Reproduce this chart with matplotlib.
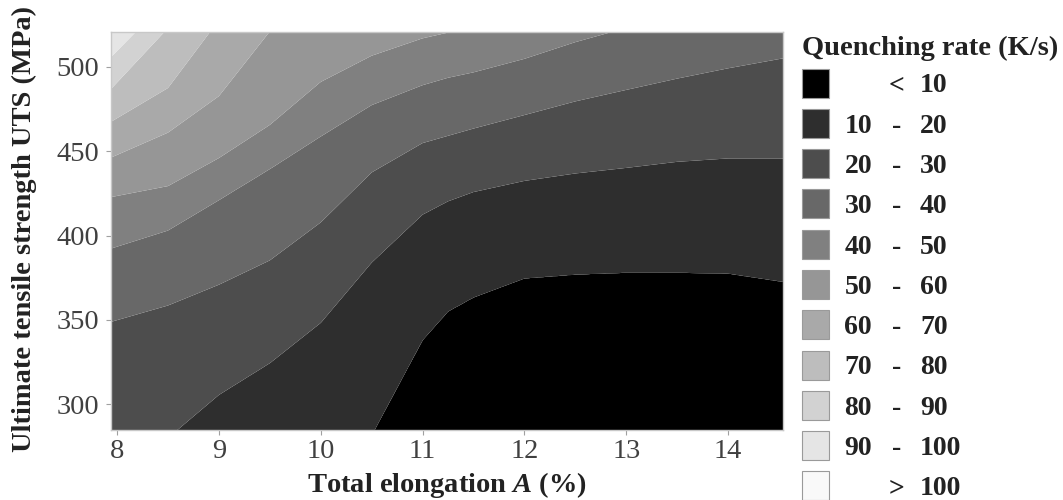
import numpy as np
import matplotlib
matplotlib.use("Agg")
import matplotlib.pyplot as plt
from matplotlib.patches import Rectangle

# ---------------- data ----------------
# Elongation columns (%) at which the contour boundaries were read
elongation_cols = [7.94, 8.5, 9.0, 9.5, 10.0, 10.5, 11.0, 11.25, 11.5, 12.0, 12.5, 13.0, 13.5, 14.0, 14.54]
# Quenching-rate contour levels (K/s)
rate_levels = [0, 10, 20, 30, 40, 50, 60, 70, 80, 90, 100]
# UTS (MPa) at which each level is crossed, one list per level, per column
uts_level_0 = [100, 100, 100, 100, 100, 100, 100, 100, 100, 100, 100, 100, 100, 100, 100]
uts_level_10 = [180, 195, 205, 215, 225, 281.5, 338, 355, 363.3, 374.6, 376.9, 378, 378, 377.5, 372.6]
uts_level_20 = [252, 280.1, 305.6, 324.4, 348.3, 384, 412.4, 420.3, 425.8, 432.4, 436.8, 440.1, 443.7, 445.7, 445.7]
uts_level_30 = [348.9, 358.6, 370.9, 385.3, 407.8, 437.4, 454.8, 459.1, 463.4, 471.4, 479.5, 486.3, 493, 499.1, 505]
uts_level_40 = [392.3, 403, 421, 439.4, 458.7, 477.3, 489.1, 493.5, 496.7, 504.7, 514.6, 523, 530.6, 538, 547]
uts_level_50 = [422.8, 429.3, 445.9, 465.5, 491, 506.5, 516.8, 520.2, 525, 533.6, 542, 550, 558, 566, 575]
uts_level_60 = [446.2, 461, 482.6, 521, 545, 570, 590, 597, 605, 615, 625, 635, 645, 655, 665]
uts_level_70 = [467.4, 487.4, 527.7, 555, 580, 600, 620, 628, 635, 645, 655, 665, 675, 685, 695]
uts_level_80 = [486.8, 523, 550, 580, 605, 625, 645, 652, 660, 670, 680, 690, 700, 710, 720]
uts_level_90 = [505.7, 540, 570, 600, 625, 650, 670, 678, 685, 695, 705, 715, 725, 735, 745]
uts_level_100 = [528, 560, 590, 620, 645, 675, 695, 702, 710, 720, 730, 740, 750, 760, 770]

band_labels_left = ["", "10", "20", "30", "40", "50", "60", "70", "80", "90", ""]
band_labels_mid = ["<", "-", "-", "-", "-", "-", "-", "-", "-", "-", ">"]
band_labels_right = ["10", "20", "30", "40", "50", "60", "70", "80", "90", "100", "100"]
band_colors = ["#000000", "#2e2e2e", "#4d4d4d", "#686868", "#808080", "#969696",
               "#a9a9a9", "#bdbdbd", "#d2d2d2", "#e5e5e5", "#f9f9f9"]

x_ticks = [8, 9, 10, 11, 12, 13, 14]
y_ticks = [300, 350, 400, 450, 500]

# ---------------- build field ----------------
crossings = np.array([uts_level_0, uts_level_10, uts_level_20, uts_level_30, uts_level_40,
                      uts_level_50, uts_level_60, uts_level_70, uts_level_80, uts_level_90,
                      uts_level_100])
x_cols = np.array(elongation_cols)
x_fine = np.linspace(x_cols[0], x_cols[-1], 700)
y_fine = np.linspace(284.8, 520.6, 700)
# boundary positions follow straight segments between the read columns
cross_fine = np.array([np.interp(x_fine, x_cols, row) for row in crossings])
Z = np.empty((len(y_fine), len(x_fine)))
for j in range(len(x_fine)):
    Z[:, j] = np.interp(y_fine, cross_fine[:, j], rate_levels)
X, Y = np.meshgrid(x_fine, y_fine)

# ---------------- figure ----------------
W, H = 1063, 500
plt.rcParams['font.family'] = ['Liberation Serif', 'DejaVu Serif']
plt.rcParams['mathtext.fontset'] = 'custom'
plt.rcParams['mathtext.it'] = 'Liberation Serif:italic:bold'
plt.rcParams['mathtext.rm'] = 'Liberation Serif:bold'

fig = plt.figure(figsize=(W / 100, H / 100), dpi=100)
ax = fig.add_axes([111 / W, 1 - 430 / H, (783 - 111) / W, (430 - 32) / H])

fill_levels = [-1, 10, 20, 30, 40, 50, 60, 70, 80, 90, 100, 1000]
ax.contourf(X, Y, Z, levels=fill_levels, colors=band_colors, antialiased=True)

ax.set_xlim(7.94, 14.54)
ax.set_ylim(284.8, 520.6)
ax.set_xticks(x_ticks)
ax.set_yticks(y_ticks)
ax.tick_params(axis='both', length=3.6, width=0.8, color='#a0a0a0',
               labelsize=20.5, labelcolor='#404040')
ax.tick_params(axis='y', pad=5)
ax.tick_params(axis='x', pad=3)
for s in ax.spines.values():
    s.set_color('#c8c8c8')
    s.set_linewidth(1.0)


def fpos(x, y):
    return x / W, 1 - y / H


fig.text(*fpos(447, 492), r'Total elongation $\it{A}$ (%)', ha='center', va='baseline',
         fontsize=20.5, fontweight='bold', color='#222222')
fig.text(*fpos(24, 229), 'Ultimate tensile strength UTS (MPa)', ha='center', va='center',
         rotation=90, fontsize=20.5, fontweight='bold', color='#222222')

# legend
fig.text(*fpos(802, 55), 'Quenching rate (K/s)', ha='left', va='baseline',
         fontsize=20.5, fontweight='bold', color='#222222')
for i in range(len(band_colors)):
    cy = 83 + i * 40.3
    x0, y0 = fpos(801.5, cy + 14.5)
    fig.add_artist(Rectangle((x0, y0), 27.5 / W, 29 / H, transform=fig.transFigure,
                             facecolor=band_colors[i], edgecolor='#9a9a9a', linewidth=0.8))
    by = cy + 9.4
    if band_labels_left[i]:
        fig.text(*fpos(872, by), band_labels_left[i], ha='right', va='baseline',
                 fontsize=20, fontweight='bold', color='#222222')
    fig.text(*fpos(897, by), band_labels_mid[i], ha='center', va='baseline',
             fontsize=20, fontweight='bold', color='#222222')
    fig.text(*fpos(920, by), band_labels_right[i], ha='left', va='baseline',
             fontsize=20, fontweight='bold', color='#222222')

fig.savefig('out.png', dpi=100)
